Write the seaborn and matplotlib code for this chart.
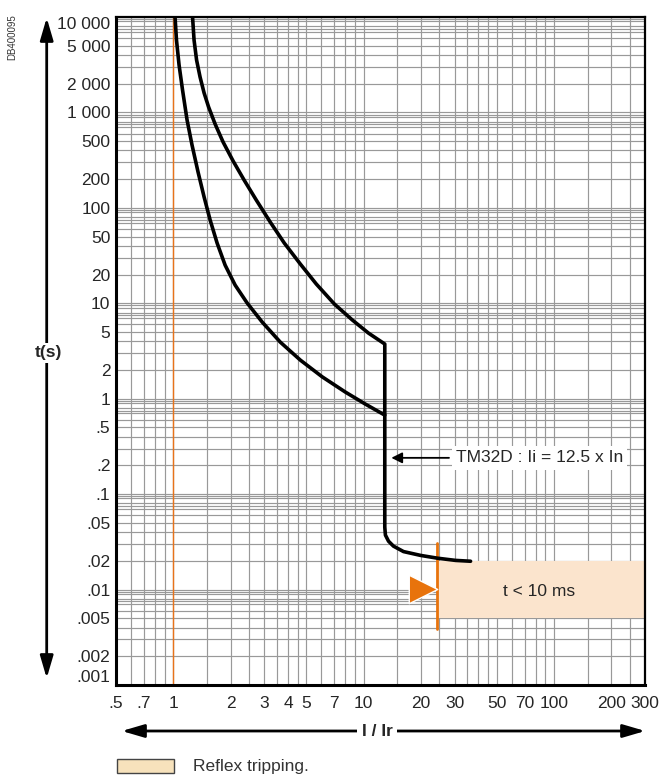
import matplotlib
matplotlib.use("Agg")
import matplotlib.pyplot as plt
from matplotlib.patches import FancyArrowPatch, Rectangle
from matplotlib.ticker import NullFormatter
import pandas as pd
import seaborn as sns

# time-current curve (I/Ir, seconds)
upper_i = [1.262, 1.285, 1.325, 1.382, 1.451, 1.532, 1.658, 1.826, 2.062, 2.356, 2.725,
           3.228, 3.825, 4.644, 5.637, 7.015, 8.72, 10.59, 12.9,
           12.9, 13.0, 13.5, 14.33, 16.18, 19.88, 24.43, 30.4, 36.4]
upper_t = [10000, 5740, 3540, 2350, 1600, 1140, 755, 489, 309, 195, 121,
           71, 42.8, 25.8, 15.9, 9.81, 6.67, 4.87, 3.74,
           0.0451, 0.0372, 0.0321, 0.0285, 0.025, 0.0228, 0.0213, 0.0202, 0.0198]
lower_i = [1.021, 1.039, 1.072, 1.118, 1.181, 1.254, 1.349, 1.451, 1.561, 1.698, 1.871,
           2.112, 2.443, 2.93, 3.644, 4.644, 6.06, 8.01, 10.2, 12.9]
lower_t = [10000, 5740, 3140, 1718, 832, 455, 237, 130, 74.5, 42.8, 25.1,
           15.5, 10.05, 6.35, 3.92, 2.54, 1.692, 1.173, 0.878, 0.673]

# reflex tripping zone
reflex_i = [24.3, 300]
reflex_t = [0.005, 0.02]
reflex_line_t = [0.0039, 0.0304]
marker_i = [20.4]
marker_t = [0.0101]

x_ticks = [0.5, 0.7, 1, 2, 3, 4, 5, 7, 10, 20, 30, 50, 70, 100, 200, 300]
x_labels = [".5", ".7", "1", "2", "3", "4", "5", "7", "10", "20", "30", "50", "70", "100", "200", "300"]
y_ticks = [10000, 5000, 2000, 1000, 500, 200, 100, 50, 20, 10, 5, 2, 1,
           0.5, 0.2, 0.1, 0.05, 0.02, 0.01, 0.005, 0.002, 0.001]
y_labels = ["10 000", "5 000", "2 000", "1 000", "500", "200", "100", "50", "20", "10", "5", "2", "1",
            ".5", ".2", ".1", ".05", ".02", ".01", ".005", ".002", ".001"]

x_grid_steps = [1, 1.5, 2, 2.5, 3, 3.5, 4, 4.5, 5, 6, 7, 8, 9]
y_grid_steps = [1, 2, 3, 4, 5, 6, 7, 7.5, 8, 9, 9.5]

sns.set_theme(style="white")
plt.rcParams["font.family"] = ["Liberation Sans", "DejaVu Sans"]

fig = plt.figure(figsize=(6.67, 7.76), dpi=100)
ax = fig.add_axes([0.1739, 0.1173, 0.7931, 0.8608])
ax.set_xscale("log")
ax.set_yscale("log")
ax.set_xlim(0.5, 300)
ax.set_ylim(0.001, 10000)

# grid
xg = [0.6, 0.7, 0.8, 0.9] + [d * s for d in (1, 10, 100) for s in x_grid_steps if d * s < 300]
yg = [d * s for d in (0.001, 0.01, 0.1, 1, 10, 100, 1000) for s in y_grid_steps if d * s < 10000]
ax.set_xticks(xg, minor=True)
ax.set_yticks(yg, minor=True)
ax.xaxis.set_minor_formatter(NullFormatter())
ax.yaxis.set_minor_formatter(NullFormatter())
ax.grid(which="both", color="#999999", lw=0.85)
ax.set_axisbelow(True)
ax.set_xticks(x_ticks)
ax.set_xticklabels(x_labels, fontsize=12.5)
ax.set_yticks(y_ticks)
ax.set_yticklabels(y_labels, fontsize=12.5)
ax.tick_params(which="both", length=0)
ax.tick_params(axis="x", pad=8)
ax.tick_params(axis="y", pad=4)
ylabs = ax.get_yticklabels()
ylabs[0].set_va("top")
ylabs[-1].set_va("bottom")
for sp in ax.spines.values():
    sp.set_color("black")
    sp.set_linewidth(1.6)
ax.spines["left"].set_linewidth(2.2)
ax.spines["bottom"].set_linewidth(2.2)

ax.axvline(1, color="#e8731a", lw=1.0, zorder=1.5)

# reflex zone
ax.fill_between(reflex_i, reflex_t[0], reflex_t[1], color="#fbe4cd", lw=0, zorder=2)
ax.plot([reflex_i[0], reflex_i[0]], reflex_line_t, color="#e8730c", lw=2, zorder=4)
sns.scatterplot(x=marker_i, y=marker_t, marker=">", s=420, color="#e8730c",
                edgecolor="white", linewidth=1, zorder=5, ax=ax)
ax.text(83, 0.0095, "t < 10 ms", fontsize=12.5, ha="center", va="center", zorder=5)

# curves
curves = pd.DataFrame({
    "I": upper_i + lower_i,
    "t": upper_t + lower_t,
    "branch": ["upper"] * len(upper_i) + ["lower"] * len(lower_i),
})
sns.lineplot(data=curves, x="I", y="t", units="branch", estimator=None, sort=False,
             color="black", lw=2.6, ax=ax, zorder=6, legend=False)
ax.set_xlabel("")
ax.set_ylabel("")

# TM32D annotation
ax.annotate("", xy=(13.5, 0.24), xytext=(29, 0.24),
            arrowprops=dict(arrowstyle="-|>", color="black", lw=1.3, mutation_scale=16), zorder=7)
ax.text(30.5, 0.24, "TM32D : Ii = 12.5 x In", fontsize=12.5, ha="left", va="center", zorder=7,
        bbox=dict(fc="white", ec="none", pad=3))

# axis arrows and labels
arrow_style = "<|-|>,head_length=0.75,head_width=0.22"
fig.add_artist(FancyArrowPatch((46.7 / 667, 1 - 681 / 776), (46.7 / 667, 1 - 15 / 776),
                               transform=fig.transFigure, arrowstyle=arrow_style,
                               mutation_scale=18, color="black", lw=2))
fig.text(48 / 667, 1 - 353 / 776, "t(s)", fontsize=12.5, fontweight="bold", ha="center", va="center",
         bbox=dict(fc="white", ec="none", pad=2))
fig.add_artist(FancyArrowPatch((119 / 667, 1 - 731 / 776), (648 / 667, 1 - 731 / 776),
                               transform=fig.transFigure, arrowstyle=arrow_style,
                               mutation_scale=18, color="black", lw=2))
fig.text(377 / 667, 1 - 731 / 776, "I / Ir", fontsize=12.5, fontweight="bold", ha="center", va="center",
         bbox=dict(fc="white", ec="none", pad=3))

fig.text(12 / 667, 1 - 37 / 776, "DB400095", fontsize=7, rotation=90, ha="center", va="center", color="#333333")

# legend
fig.add_artist(Rectangle((117 / 667, 1 - 773 / 776), 57 / 667, 14 / 776, transform=fig.transFigure,
                         fc="#f7e2bc", ec="#444444", lw=1))
fig.text(193 / 667, 1 - 766 / 776, "Reflex tripping.", fontsize=12.5, ha="left", va="center", color="#333333")

fig.savefig("out.png", dpi=100)
